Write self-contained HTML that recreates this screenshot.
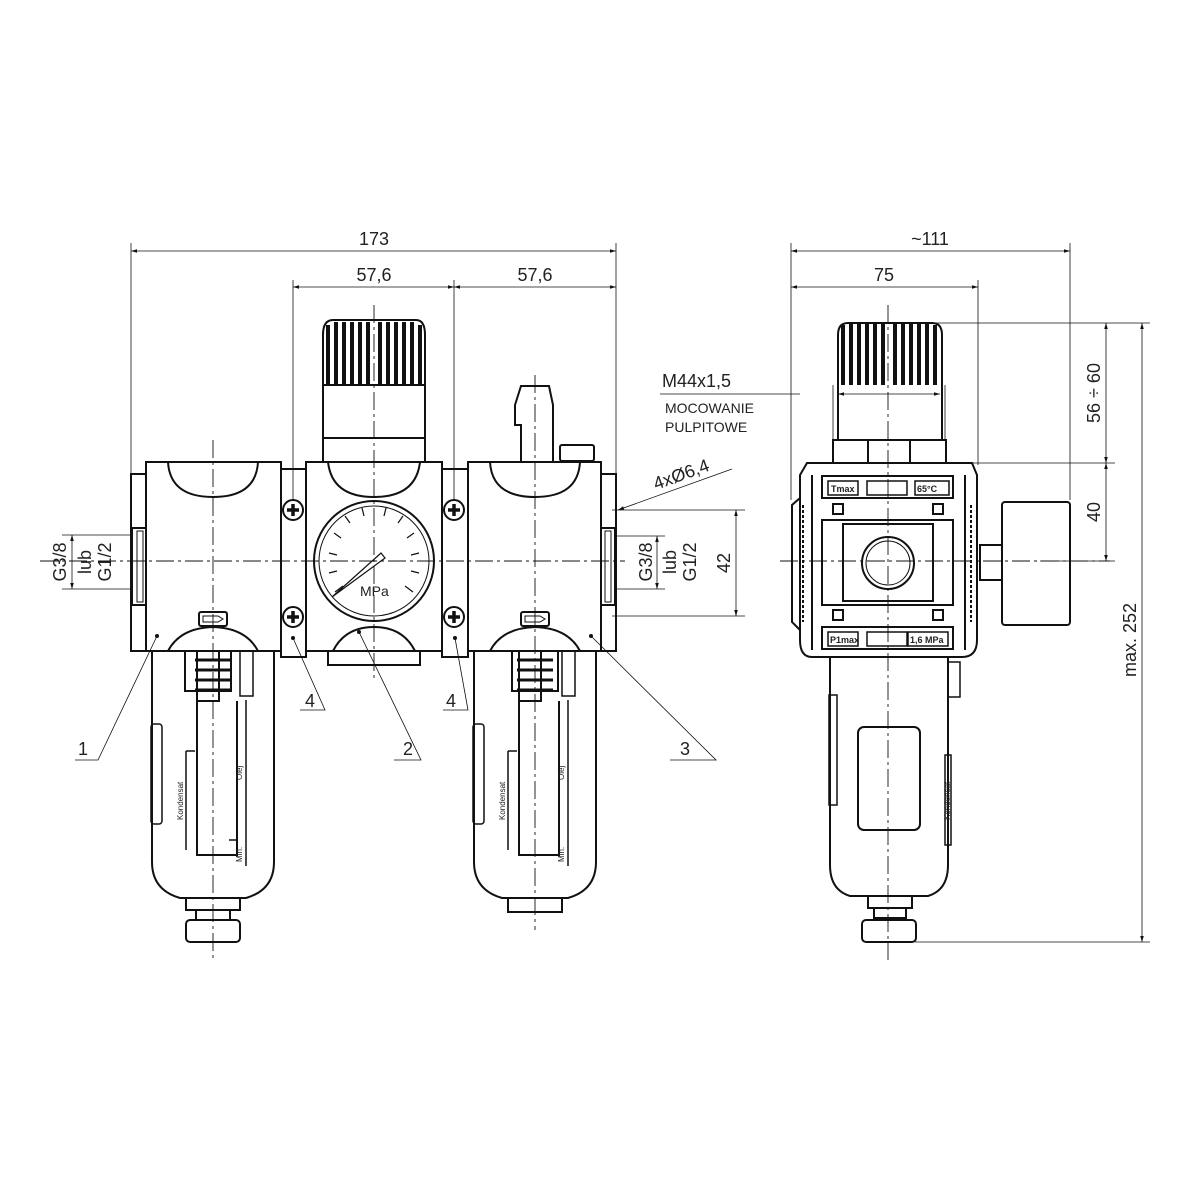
<!DOCTYPE html>
<html><head><meta charset="utf-8"><style>
html,body{margin:0;padding:0;background:#fff}
svg{display:block}
text{font-family:"Liberation Sans",sans-serif;fill:#222}
</style></head><body>
<svg width="1200" height="1200" viewBox="0 0 1200 1200" xmlns="http://www.w3.org/2000/svg">
<defs>
<marker id="a" viewBox="0 0 10 10" refX="10" refY="5" markerWidth="10" markerHeight="6" orient="auto-start-reverse" markerUnits="userSpaceOnUse"><path d="M0,2 L10,5 L0,8 z" fill="#111"/></marker>
</defs>
<g stroke="#111" fill="none">
<g stroke-width="0.8">
<line x1="131" y1="243" x2="131" y2="498"/>
<line x1="616" y1="243" x2="616" y2="498"/>
<line x1="293" y1="280" x2="293" y2="500"/>
<line x1="454" y1="280" x2="454" y2="500"/>
<line x1="131" y1="251" x2="616" y2="251" marker-start="url(#a)" marker-end="url(#a)"/>
<line x1="293" y1="287" x2="454" y2="287" marker-start="url(#a)" marker-end="url(#a)"/>
<line x1="454" y1="287" x2="616" y2="287" marker-start="url(#a)" marker-end="url(#a)"/>
<line x1="62" y1="535" x2="133" y2="535"/><line x1="62" y1="589" x2="133" y2="589"/>
<line x1="72" y1="535" x2="72" y2="589" marker-start="url(#a)" marker-end="url(#a)"/>
<line x1="616" y1="536" x2="665" y2="536"/><line x1="616" y1="589" x2="665" y2="589"/>
<line x1="657" y1="536" x2="657" y2="589" marker-start="url(#a)" marker-end="url(#a)"/>
<line x1="612" y1="510" x2="745" y2="510"/><line x1="612" y1="616" x2="745" y2="616"/>
<line x1="736" y1="510" x2="736" y2="616" marker-start="url(#a)" marker-end="url(#a)"/>
<line x1="732" y1="469" x2="618" y2="510" marker-end="url(#a)"/>
<line x1="660" y1="394" x2="800" y2="394"/>
</g>
<g stroke-width="0.9" stroke-dasharray="18,4,3,4">
<line x1="40" y1="561" x2="625" y2="561"/>
<line x1="213" y1="440" x2="213" y2="960"/>
<line x1="374" y1="305" x2="374" y2="680"/>
<line x1="535" y1="375" x2="535" y2="930"/>
<line x1="888" y1="305" x2="888" y2="960"/>
<line x1="780" y1="561" x2="1110" y2="561"/>
</g>

<g stroke-width="2">
<path d="M146,462 H281 V651 H131 V474 H146 Z"/>
<line x1="146" y1="462" x2="146" y2="651"/>
<path d="M168,462 Q170,497 213,497 Q256,497 258,462" />
<path d="M168,651 Q180,628 213,627 Q246,628 258,651"/>
<rect x="132" y="528" width="14" height="77"/>
<rect x="137" y="531" width="6" height="71" stroke-width="1"/>
<rect x="199" y="612" width="28" height="14" rx="2"/>
<path d="M203,616 H218 L223,619 L218,622 H203 Z" stroke-width="1"/>
<path d="M152,651 V862 Q152,890 180,898 H246 Q274,890 274,862 V651" />
<rect x="185" y="651" width="46" height="40"/>
<rect x="197" y="651" width="22" height="50"/>
<path d="M197,701 V855 H237 V701"/>
<rect x="151" y="724" width="11" height="100" rx="3" stroke-width="1.5"/>
<rect x="240" y="651" width="13" height="45" stroke-width="1.5"/>
<path d="M186,751 H195 M186,751 V850 M246,700 V866 M229,840 H237" stroke-width="1.5"/>
<rect x="186" y="898" width="54" height="12"/>
<rect x="196" y="910" width="34" height="10"/>
<rect x="186" y="920" width="54" height="22" rx="4"/>
</g>
<g stroke-width="3"><line x1="195" y1="660" x2="231" y2="660"/><line x1="195" y1="670" x2="231" y2="670"/><line x1="195" y1="680" x2="231" y2="680"/><line x1="195" y1="690" x2="231" y2="690"/></g>

<g stroke-width="2">
<path d="M468,462 H601 V474 H616 V651 H468 Z"/>
<line x1="601" y1="462" x2="601" y2="651"/>
<path d="M490,462 Q492,497 535,497 Q578,497 580,462"/>
<path d="M490,651 Q502,628 535,627 Q568,628 580,651"/>
<rect x="601" y="528" width="14" height="77"/>
<rect x="605" y="531" width="6" height="71" stroke-width="1"/>
<rect x="521" y="612" width="28" height="14" rx="2"/>
<path d="M525,616 H540 L545,619 L540,622 H525 Z" stroke-width="1"/>
<path d="M521,461 V425 H515 V405 L521,386 H549 L553,405 V461"/>
<rect x="560" y="445" width="34" height="16" rx="2"/>
<path d="M474,651 V862 Q474,890 502,898 H568 Q596,890 596,862 V651"/>
<rect x="512" y="651" width="46" height="40"/>
<rect x="519" y="651" width="22" height="50"/>
<path d="M519,701 V855 H559 V701"/>
<rect x="473" y="724" width="11" height="100" rx="3" stroke-width="1.5"/>
<rect x="562" y="651" width="13" height="45" stroke-width="1.5"/>
<path d="M508,751 H517 M508,751 V850 M568,700 V866" stroke-width="1.5"/>
<rect x="508" y="898" width="54" height="14"/>
</g>
<g stroke-width="3"><line x1="517" y1="660" x2="553" y2="660"/><line x1="517" y1="670" x2="553" y2="670"/><line x1="517" y1="680" x2="553" y2="680"/><line x1="517" y1="690" x2="553" y2="690"/></g>

<g stroke-width="2">
<rect x="281" y="469" width="25" height="188"/>
<rect x="442" y="469" width="26" height="188"/>
<rect x="306" y="462" width="136" height="189"/>
<rect x="328" y="651" width="92" height="14"/>
<path d="M328,462 Q332,497 374,497 Q416,497 420,462"/>
<path d="M333,651 Q345,627 374,627 Q403,627 415,651"/>
<rect x="323" y="438" width="102" height="24"/>
<path d="M323,438 V335 Q323,320 333,320 H416 Q425,320 425,335 V438"/>
<line x1="323" y1="385" x2="425" y2="385"/>
<circle cx="374" cy="561" r="60"/>
<circle cx="374" cy="561" r="55" stroke-width="1"/>
</g>
<g stroke-width="4">
<line x1="328" y1="325" x2="328" y2="385"/><line x1="336" y1="322" x2="336" y2="385"/><line x1="344" y1="322" x2="344" y2="385"/><line x1="352" y1="322" x2="352" y2="385"/><line x1="360" y1="322" x2="360" y2="385"/><line x1="368" y1="322" x2="368" y2="385"/><line x1="380" y1="322" x2="380" y2="385"/><line x1="388" y1="322" x2="388" y2="385"/><line x1="396" y1="322" x2="396" y2="385"/><line x1="404" y1="322" x2="404" y2="385"/><line x1="412" y1="322" x2="412" y2="385"/><line x1="420" y1="325" x2="420" y2="385"/>
</g>
<g stroke-width="1.2">
<line x1="335" y1="592" x2="343" y2="586"/><line x1="329" y1="573" x2="337" y2="571"/><line x1="329" y1="553" x2="337" y2="555"/><line x1="334" y1="533" x2="341" y2="538"/><line x1="345" y1="516" x2="350" y2="523"/><line x1="362" y1="508" x2="364" y2="516"/><line x1="386" y1="508" x2="384" y2="516"/><line x1="403" y1="516" x2="398" y2="523"/><line x1="414" y1="533" x2="407" y2="538"/><line x1="419" y1="553" x2="411" y2="555"/><line x1="419" y1="573" x2="411" y2="571"/><line x1="413" y1="592" x2="405" y2="586"/>
<path d="M332,597 L381,553 L385,558 Z"/>
</g>
<g stroke-width="2">
<circle cx="293" cy="510" r="10"/><circle cx="293" cy="617" r="10"/><circle cx="454" cy="510" r="10"/><circle cx="454" cy="617" r="10"/>
</g>
<g stroke-width="3.5">
<path d="M287,510 H299 M293,504 V516"/><path d="M287,617 H299 M293,611 V623"/><path d="M448,510 H460 M454,504 V516"/><path d="M448,617 H460 M454,611 V623"/>
</g>
<g stroke-width="0.8">
<path d="M75,760 H98 L157,636"/>
<path d="M300,710 H325 L293,638"/>
<path d="M443,710 H468 L455,638"/>
<path d="M394,760 H421 L359,632"/>
<path d="M670,760 H716 L591,636"/>
</g>
<g fill="#111" stroke="none"><circle cx="157" cy="636" r="2"/><circle cx="293" cy="638" r="2"/><circle cx="455" cy="638" r="2"/><circle cx="359" cy="632" r="2"/><circle cx="591" cy="636" r="2"/></g>

<g stroke-width="0.8">
<line x1="791" y1="243" x2="791" y2="500"/>
<line x1="1070" y1="243" x2="1070" y2="500"/>
<line x1="978" y1="280" x2="978" y2="465"/>
<line x1="791" y1="251" x2="1070" y2="251" marker-start="url(#a)" marker-end="url(#a)"/>
<line x1="791" y1="287" x2="978" y2="287" marker-start="url(#a)" marker-end="url(#a)"/>
<line x1="925" y1="323" x2="1150" y2="323"/>
<line x1="945" y1="463" x2="1115" y2="463"/>
<line x1="1040" y1="561" x2="1115" y2="561"/>
<line x1="915" y1="942" x2="1150" y2="942"/>
<line x1="1106" y1="323" x2="1106" y2="463" marker-start="url(#a)" marker-end="url(#a)"/>
<line x1="1106" y1="463" x2="1106" y2="561" marker-start="url(#a)" marker-end="url(#a)"/>
<line x1="1142" y1="323" x2="1142" y2="942" marker-start="url(#a)" marker-end="url(#a)"/>
<line x1="833" y1="385" x2="833" y2="440"/><line x1="945" y1="385" x2="945" y2="440"/>
<line x1="838" y1="394" x2="940" y2="394" marker-start="url(#a)" marker-end="url(#a)"/>
</g>
<g stroke-width="2">
<path d="M838,440 V335 Q838,323 848,323 H932 Q942,323 942,335 V440"/>
<rect x="833" y="440" width="113" height="23"/>
<line x1="868" y1="440" x2="868" y2="463"/><line x1="910" y1="440" x2="910" y2="463"/>
<path d="M807,463 H972 L977,475 V640 Q977,657 962,657 H812 Q800,657 800,640 V475 Z"/>
<line x1="812" y1="475" x2="812" y2="650"/><line x1="965" y1="475" x2="965" y2="650"/>
<path d="M800,498 L792,505 V622 L800,630"/>
<rect x="822" y="476" width="131" height="22"/>
<rect x="828" y="481" width="30" height="14" stroke-width="1.5"/>
<rect x="867" y="481" width="40" height="14" stroke-width="1.5"/>
<rect x="915" y="481" width="34" height="14" stroke-width="1.5"/>
<rect x="822" y="520" width="131" height="85"/>
<rect x="843" y="524" width="90" height="77"/>
<circle cx="888" cy="563" r="26"/><circle cx="888" cy="563" r="22" stroke-width="1"/>
<rect x="822" y="627" width="131" height="22"/>
<rect x="828" y="632" width="30" height="14" stroke-width="1.5"/>
<rect x="867" y="632" width="40" height="14" stroke-width="1.5"/>
<rect x="908" y="632" width="40" height="14" stroke-width="1.5"/>
<rect x="833" y="504" width="10" height="10"/><rect x="933" y="504" width="10" height="10"/>
<rect x="833" y="610" width="10" height="10"/><rect x="933" y="610" width="10" height="10"/>
<rect x="980" y="545" width="22" height="35"/>
<rect x="1002" y="502" width="68" height="123" rx="3"/>
<path d="M830,657 V865 Q830,890 850,896 H928 Q948,890 948,865 V657"/>
<rect x="858" y="727" width="62" height="103" rx="6"/>
<rect x="829" y="695" width="8" height="110" stroke-width="1.5"/>
<rect x="945" y="755" width="6" height="90" stroke-width="1.5"/>
<rect x="948" y="662" width="12" height="35" stroke-width="1.5"/>
<rect x="868" y="896" width="44" height="12"/>
<rect x="874" y="908" width="32" height="10"/>
<rect x="862" y="920" width="54" height="22" rx="4"/>
</g>
<g stroke-width="4">
<line x1="843" y1="325" x2="843" y2="385"/><line x1="851" y1="323" x2="851" y2="385"/><line x1="859" y1="323" x2="859" y2="385"/><line x1="867" y1="323" x2="867" y2="385"/><line x1="875" y1="323" x2="875" y2="385"/><line x1="883" y1="323" x2="883" y2="385"/><line x1="895" y1="323" x2="895" y2="385"/><line x1="903" y1="323" x2="903" y2="385"/><line x1="911" y1="323" x2="911" y2="385"/><line x1="919" y1="323" x2="919" y2="385"/><line x1="927" y1="323" x2="927" y2="385"/><line x1="935" y1="325" x2="935" y2="385"/>
</g>
<g stroke-width="2"><line x1="803" y1="505" x2="803" y2="622" stroke-dasharray="3,2"/><line x1="971" y1="505" x2="971" y2="622" stroke-dasharray="3,2"/></g>
</g>

<g font-size="18">
<text x="374" y="245" text-anchor="middle">173</text>
<text x="374" y="281" text-anchor="middle">57,6</text>
<text x="535" y="281" text-anchor="middle">57,6</text>
<text x="930" y="245" text-anchor="middle">~111</text>
<text x="884" y="281" text-anchor="middle">75</text>
<text x="662" y="387">M44x1,5</text>
<text x="0" y="0" transform="translate(66,562) rotate(-90)" text-anchor="middle">G3/8</text>
<text x="0" y="0" transform="translate(91,562) rotate(-90)" text-anchor="middle">lub</text>
<text x="0" y="0" transform="translate(111,562) rotate(-90)" text-anchor="middle">G1/2</text>
<text x="0" y="0" transform="translate(652,562) rotate(-90)" text-anchor="middle">G3/8</text>
<text x="0" y="0" transform="translate(676,562) rotate(-90)" text-anchor="middle">lub</text>
<text x="0" y="0" transform="translate(696,562) rotate(-90)" text-anchor="middle">G1/2</text>
<text x="0" y="0" transform="translate(730,563) rotate(-90)" text-anchor="middle">42</text>
<text x="0" y="0" transform="translate(1100,393) rotate(-90)" text-anchor="middle">56 ÷ 60</text>
<text x="0" y="0" transform="translate(1100,512) rotate(-90)" text-anchor="middle">40</text>
<text x="0" y="0" transform="translate(1136,640) rotate(-90)" text-anchor="middle">max. 252</text>
<text x="0" y="0" transform="translate(656,490) rotate(-20)">4xØ6,4</text>
<text x="78" y="755">1</text>
<text x="403" y="755">2</text>
<text x="680" y="755">3</text>
<text x="305" y="707">4</text>
<text x="446" y="707">4</text>
</g>
<text x="665" y="413" font-size="14">MOCOWANIE</text>
<text x="665" y="432" font-size="14">PULPITOWE</text>
<text x="360" y="596" font-size="14">MPa</text>
<g font-size="9" font-weight="bold">
<text x="831" y="492">Tmax</text><text x="917" y="492">65°C</text>
<text x="830" y="643">P1max</text><text x="910" y="643">1,6 MPa</text>
</g>
<g font-size="8">
<text transform="translate(183,820) rotate(-90)">Kondensat</text>
<text transform="translate(242,780) rotate(-90)">Olej</text>
<text transform="translate(242,862) rotate(-90)">Min.</text>
<text transform="translate(505,820) rotate(-90)">Kondensat</text>
<text transform="translate(564,780) rotate(-90)">Olej</text>
<text transform="translate(564,862) rotate(-90)">Min.</text>
<text transform="translate(950,820) rotate(-90)">Kondensat</text>
</g>
</svg>
</body></html>
